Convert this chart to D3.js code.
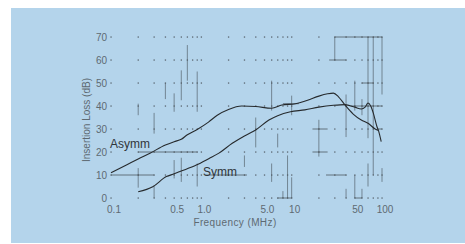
<!DOCTYPE html>
<head>
  <meta charset="utf-8">
  <script src="https://d3js.org/d3.v7.min.js"></script>
  <style>
    body { margin:0; background:#fff; }
    text { font-family: "Liberation Sans", Arial, sans-serif; }
  </style>
</head>
<body>
  <script>
    var width = 465, height = 244;

    // data
    const freqTicks = [0.1, 0.5, 1, 5, 10, 50, 100];
    const freqLabels = ["0.1", "0.5", "1.0", "5.0", "10", "50", "100"];
    const dbTicks = [0, 10, 20, 30, 40, 50, 60, 70];

    // [MHz, dB]
    const asymm = [[0.1,11],[0.15,14.5],[0.2,17],[0.27,19.5],[0.4,23],[0.5,24.5],[0.6,25.5],[0.7,27.5],
      [0.9,29.8],[1.2,33],[1.5,36],[2,38.5],[2.8,40],[4,39.8],[6,39],[7.8,40.4],[11,41],[15,42.5],
      [20,44.3],[25,45.3],[29,45.6],[33,44],[39,40.4],[48,36.5],[59,33.9],[70,32.5],[84,30],[92,29.3]];
    const symm = [[0.2,2.7],[0.29,4.9],[0.41,9.3],[0.5,10.5],[0.57,11.4],[0.88,14.3],[1.22,17.2],
      [1.55,19.4],[2.2,23.8],[3,27],[4,29.6],[5.6,33.9],[7,35.8],[9.7,37.5],[14,38.3],[20,39.5],
      [29,40.3],[39,40.6],[50,39.5],[59,38.7],[65,39.5],[70,41.3],[75,40],[80,37],[88,31],[92,29],[98,24.5]];

    // faint grid fragments left by the scan: [MHz, dB from, dB to] and [MHz from, MHz to, dB]
    const scanV = [[0.2,41,36],[0.2,13,4.5],[0.3,37,28],[0.3,5.5,0],[0.4,50,43],[0.5,45.5,37.5],
      [0.5,16.5,8.5],[0.6,55.5,42.5],[0.6,17.5,7],[0.7,66.5,51],[0.9,55,37.5],[0.9,15,5],[3,18.5,13.5],
      [4,35,22],[6,51,38],[6,15,7],[7,28,22],[8,3,0],[9,18.5,0],[10,44.5,36],[10,9,0],[20,34,18],
      [30,70,60],[40,45,26.5],[40,4,0],[50,51,38],[50,10,0],[60,43,36],[60,4,0],[70,70,26],[70,15,5],
      [80,70,10],[100,70,45],[100,13,7]];
    const scanH = [[0.2,0.9,20],[0.1,0.3,10],[1.1,3.2,10],[17,25,20],[17,25,30],[26,40,60],[30,100,70],
      [24,40,10],[45,100,40],[60,80,50],[8,12,41],[7,10,0],[50,60,0],[92,100,30]];

    var minorFreqs = [];
    [0.1, 1, 10].forEach(function(dec) {
      for (var k = 1; k < 10; k++) minorFreqs.push(dec * k);
    });
    minorFreqs.push(100);

    var svg = d3.select("body").append("svg")
      .attr("width", width)
      .attr("height", height);

    svg.append("rect")
      .attr("x", 11).attr("y", 8)
      .attr("width", width - 11).attr("height", 235)
      .attr("fill", "#b4d4eb");

    var x = d3.scaleLog().domain([0.1, 100]).range([111, 382]);
    var y = d3.scaleLinear().domain([0, 70]).range([198, 37]);

    var g = svg.append("g");

    // dotted grid at log-paper intersections
    dbTicks.forEach(function(db) {
      g.selectAll(null).data(minorFreqs).enter().append("rect")
        .attr("x", function(f) { return x(f) - 0.6; })
        .attr("y", y(db) - 0.6)
        .attr("width", 1.3).attr("height", 1.3)
        .attr("fill", "#5a6670");
    });

    g.selectAll("line.sv").data(scanV).enter().append("line")
      .attr("class", "sv")
      .attr("x1", function(d) { return x(d[0]); })
      .attr("x2", function(d) { return x(d[0]); })
      .attr("y1", function(d) { return y(d[1]); })
      .attr("y2", function(d) { return y(d[2]); })
      .attr("stroke", "#4e5a63").attr("stroke-opacity", 0.65).attr("stroke-width", 1);

    g.selectAll("line.sh").data(scanH).enter().append("line")
      .attr("class", "sh")
      .attr("x1", function(d) { return x(d[0]); })
      .attr("x2", function(d) { return x(d[1]); })
      .attr("y1", function(d) { return y(d[2]); })
      .attr("y2", function(d) { return y(d[2]); })
      .attr("stroke", "#3e474e").attr("stroke-opacity", 0.7).attr("stroke-width", 1);

    // y tick labels
    g.selectAll("text.yt").data(dbTicks).enter().append("text")
      .attr("class", "yt")
      .attr("x", 107)
      .attr("y", function(d) { return y(d) + 3.5; })
      .attr("text-anchor", "end")
      .attr("font-size", 10)
      .attr("fill", "#5e6a72")
      .text(function(d) { return d; });

    // x tick labels
    g.selectAll("text.xt").data(freqTicks).enter().append("text")
      .attr("class", "xt")
      .attr("x", function(d) { return x(d) + 3; })
      .attr("y", 213)
      .attr("text-anchor", "middle")
      .attr("font-size", 10)
      .attr("fill", "#5e6a72")
      .text(function(d, i) { return freqLabels[i]; });

    svg.append("text")
      .attr("x", 235).attr("y", 226)
      .attr("text-anchor", "middle")
      .attr("font-size", 10)
      .attr("fill", "#5e6a72")
      .attr("letter-spacing", 0.4)
      .text("Frequency (MHz)");

    svg.append("text")
      .attr("transform", "translate(90,120)rotate(-90)")
      .attr("text-anchor", "middle")
      .attr("font-size", 10)
      .attr("fill", "#5e6a72")
      .text("Insertion Loss (dB)");

    var line = d3.line()
      .x(function(d) { return x(d[0]); })
      .y(function(d) { return y(d[1]); })
      .curve(d3.curveMonotoneX);

    [asymm, symm].forEach(function(s) {
      g.append("path")
        .attr("d", line(s))
        .attr("fill", "none")
        .attr("stroke", "#262a2d")
        .attr("stroke-width", 1.1);
    });

    g.append("text").attr("x", 110).attr("y", 148)
      .attr("font-size", 12).attr("fill", "#30363a").text("Asymm");
    g.append("text").attr("x", 203).attr("y", 176)
      .attr("font-size", 12).attr("fill", "#30363a").text("Symm");
  </script>
</body>
</html>
